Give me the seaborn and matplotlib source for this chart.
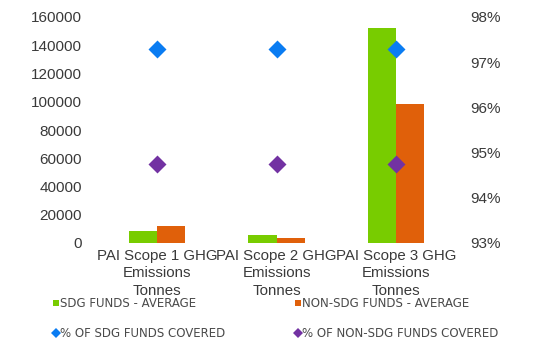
import numpy as np
import pandas as pd
import matplotlib
matplotlib.use("Agg")
import matplotlib.pyplot as plt
from matplotlib.lines import Line2D
from matplotlib.ticker import PercentFormatter
import seaborn as sns

categories = ["PAI Scope 1 GHG\nEmissions\nTonnes",
              "PAI Scope 2 GHG\nEmissions\nTonnes",
              "PAI Scope 3 GHG\nEmissions\nTonnes"]
sdg_average = [8500, 6000, 152000]
non_sdg_average = [12200, 3300, 98200]
pct_sdg_covered = [97.3, 97.3, 97.3]
pct_non_sdg_covered = [94.75, 94.75, 94.75]

bar_series = ["SDG FUNDS - AVERAGE", "NON-SDG FUNDS - AVERAGE"]
pct_series = ["% OF SDG FUNDS COVERED", "% OF NON-SDG FUNDS COVERED"]

GREEN = "#78CC00"
ORANGE = "#E0600A"
BLUE = "#0A7CF2"
PURPLE = "#7232A2"
TEXT = "#3a3a3a"

bars = pd.DataFrame({
    "category": categories * 2,
    "series": [bar_series[0]] * 3 + [bar_series[1]] * 3,
    "value": sdg_average + non_sdg_average,
})
pcts = pd.DataFrame({
    "category": categories * 2,
    "series": [pct_series[0]] * 3 + [pct_series[1]] * 3,
    "value": pct_sdg_covered + pct_non_sdg_covered,
})

sns.set_theme(style="white")
plt.rcParams["font.family"] = ["Liberation Sans", "DejaVu Sans"]

fig = plt.figure(figsize=(5.35, 3.39), dpi=100)
ax = fig.add_axes([97 / 535, 1 - 243 / 339, 359 / 535, 226 / 339])

sns.barplot(data=bars, x="category", y="value", hue="series",
            palette=[GREEN, ORANGE], width=0.47, saturation=1,
            errorbar=None, legend=False, linewidth=0, ax=ax)
ax.set_ylim(0, 160000)
ax.set_yticks(np.arange(0, 160001, 20000))
ax.set_xlim(-0.5, 2.5)
ax.set_xlabel("")
ax.set_ylabel("")
ax.tick_params(axis="y", length=0, pad=11, labelsize=11, labelcolor=TEXT)
ax.tick_params(axis="x", length=0, pad=4, labelsize=10.8, labelcolor=TEXT)
for lab in ax.get_xticklabels():
    lab.set_linespacing(1.32)
for s in ax.spines.values():
    s.set_visible(False)

ax2 = ax.twinx()
sns.pointplot(data=pcts, x="category", y="value", hue="series",
              palette=[BLUE, PURPLE], markers="D", linestyle="none",
              errorbar=None, dodge=False, legend=False, ax=ax2,
              markersize=7)
ax2.set_ylim(93, 98)
ax2.set_yticks(np.arange(93, 98.01, 1))
ax2.yaxis.set_major_formatter(PercentFormatter(decimals=0))
ax2.set_ylabel("")
ax2.set_xlim(-0.5, 2.5)
ax2.tick_params(axis="y", length=0, pad=10, labelsize=11, labelcolor=TEXT)
for s in ax2.spines.values():
    s.set_visible(False)
ax2.grid(False)
ax.grid(False)

def handle(color, marker, size):
    return Line2D([], [], linestyle="none", marker=marker, color=color,
                  markersize=size, markeredgewidth=0)

legend_style = dict(frameon=False, fontsize=8.5, labelcolor="#4a4a4a",
                    handletextpad=0.0, handlelength=0.7, labelspacing=1.45,
                    borderpad=0, borderaxespad=0, loc="upper left")
leg1 = fig.legend([handle(GREEN, "s", 4), handle(BLUE, "D", 5.5)],
                  [bar_series[0], pct_series[0]],
                  bbox_to_anchor=(52 / 535, 1 - 297 / 339), **legend_style)
leg2 = fig.legend([handle(ORANGE, "s", 4), handle(PURPLE, "D", 5.5)],
                  [bar_series[1], pct_series[1]],
                  bbox_to_anchor=(294 / 535, 1 - 297 / 339), **legend_style)
for leg in (leg1, leg2):
    for t in leg.get_texts():
        t.set_family(["DejaVu Sans"])

fig.savefig("out.png", dpi=100)
